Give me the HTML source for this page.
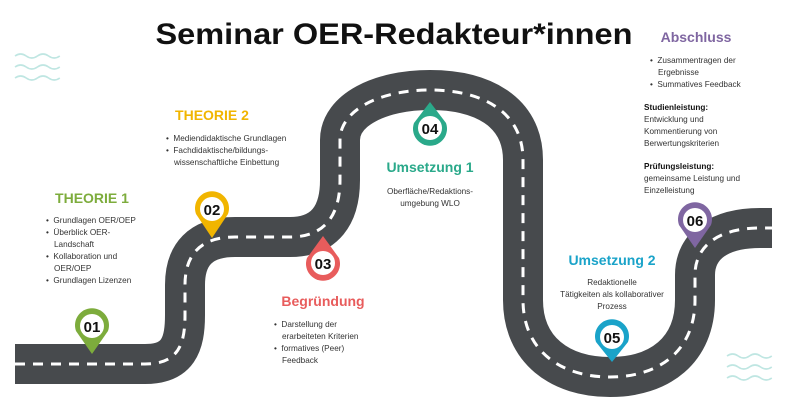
<!DOCTYPE html>
<html><head><meta charset="utf-8"><style>
html,body{margin:0;padding:0;background:#fff}
svg{display:block}
text{font-family:"Liberation Sans",sans-serif}
</style></head><body>
<svg width="788" height="404" viewBox="0 0 788 404" xmlns="http://www.w3.org/2000/svg">
<defs>
<g id="wave" fill="none" stroke="#bfe6e2" stroke-width="1.6">
<path d="M0 0 q5.6 -4 11.2 0 t11.2 0 t11.2 0 t11.2 0"/>
<path d="M0 11 q5.6 -4 11.2 0 t11.2 0 t11.2 0 t11.2 0"/>
<path d="M0 22 q5.6 -4 11.2 0 t11.2 0 t11.2 0 t11.2 0"/>
</g>
</defs>
<use href="#wave" x="15" y="56"/>
<use href="#wave" x="727" y="356"/>

<text x="394" y="44" font-size="30" font-weight="bold" text-anchor="middle" fill="#111" textLength="477" lengthAdjust="spacingAndGlyphs">Seminar OER-Redakteur*innen</text>

<path d="M15 364 H145 C178 364 185 345 185 315 V285 C185 255 200 237 235 237 H290 C325 237 340 215 340 180 V140 C340 110 380 90 430 90 C480 90 523 110 523 160 V300 C523 350 560 377 610 377 C660 377 695 350 695 300 V275 C695 245 720 228 760 228 H772" fill="none" stroke="#474a4d" stroke-width="40"/>
<path d="M15 364 H145 C178 364 185 345 185 315 V285 C185 255 200 237 235 237 H290 C325 237 340 215 340 180 V140 C340 110 380 90 430 90 C480 90 523 110 523 160 V300 C523 350 560 377 610 377 C660 377 695 350 695 300 V275 C695 245 720 228 760 228 H772" fill="none" stroke="#fff" stroke-width="3" stroke-dasharray="10 8"/>

<!-- pins -->
<g font-size="15" font-weight="bold" text-anchor="middle">
<path d="M76 331 A17 17 0 1 1 108 331 L92 354 Z" fill="#7dac3c"/><circle cx="92" cy="326" r="12" fill="#fff"/><text x="92" y="332" fill="#111">01</text>
<path d="M196 214 A17 17 0 1 1 228 214 L212 238 Z" fill="#f1b500"/><circle cx="212" cy="209" r="12" fill="#fff"/><text x="212" y="215" fill="#111">02</text>
<path d="M339 258 A17 17 0 1 1 307 258 L323 236 Z" fill="#e85c5c"/><circle cx="323" cy="263" r="12" fill="#fff"/><text x="323" y="269" fill="#111">03</text>
<path d="M446 123 A17 17 0 1 1 414 123 L430 102 Z" fill="#2aa98a"/><circle cx="430" cy="128" r="12" fill="#fff"/><text x="430" y="134" fill="#111">04</text>
<path d="M596 342 A17 17 0 1 1 628 342 L612 362 Z" fill="#1aa3c9"/><circle cx="612" cy="337" r="12" fill="#fff"/><text x="612" y="343" fill="#111">05</text>
<path d="M679 225 A17 17 0 1 1 711 225 L695 248 Z" fill="#7f66a1"/><circle cx="695" cy="220" r="12" fill="#fff"/><text x="695" y="226" fill="#111">06</text>
</g>

<!-- headings -->
<g font-weight="bold" font-size="14" text-anchor="middle">
<text x="92" y="203" fill="#7dac3c">THEORIE 1</text>
<text x="212" y="120" fill="#f1b500">THEORIE 2</text>
<text x="323" y="306" fill="#e85c5c">Begründung</text>
<text x="430" y="172" fill="#2aa98a">Umsetzung 1</text>
<text x="612" y="265" fill="#1aa3c9">Umsetzung 2</text>
<text x="696" y="42" fill="#7f66a1">Abschluss</text>
</g>

<g font-size="8.2" fill="#333">
<text x="46" y="223">•&#160; Grundlagen OER/OEP</text>
<text x="46" y="235">•&#160; Überblick OER-</text>
<text x="54" y="247">Landschaft</text>
<text x="46" y="259">•&#160; Kollaboration und</text>
<text x="54" y="271">OER/OEP</text>
<text x="46" y="283">•&#160; Grundlagen Lizenzen</text>

<text x="166" y="141">•&#160; Mediendidaktische Grundlagen</text>
<text x="166" y="153">•&#160; Fachdidaktische/bildungs-</text>
<text x="174" y="165">wissenschaftliche Einbettung</text>

<text x="274" y="327">•&#160; Darstellung der</text>
<text x="282" y="339">erarbeiteten Kriterien</text>
<text x="274" y="351">•&#160; formatives (Peer)</text>
<text x="282" y="363">Feedback</text>

<text x="430" y="194" text-anchor="middle">Oberfläche/Redaktions-</text>
<text x="430" y="206" text-anchor="middle">umgebung WLO</text>

<text x="612" y="285" text-anchor="middle">Redaktionelle</text>
<text x="612" y="297" text-anchor="middle">Tätigkeiten als kollaborativer</text>
<text x="612" y="309" text-anchor="middle">Prozess</text>

<text x="650" y="63">•&#160; Zusammentragen der</text>
<text x="658" y="75">Ergebnisse</text>
<text x="650" y="87">•&#160; Summatives Feedback</text>

<text x="644" y="110" font-weight="bold" fill="#111">Studienleistung:</text>
<text x="644" y="122">Entwicklung und</text>
<text x="644" y="134">Kommentierung von</text>
<text x="644" y="146">Berwertungskriterien</text>
<text x="644" y="169" font-weight="bold" fill="#111">Prüfungsleistung:</text>
<text x="644" y="181">gemeinsame Leistung und</text>
<text x="644" y="193">Einzelleistung</text>
</g>
</svg>
</body></html>
